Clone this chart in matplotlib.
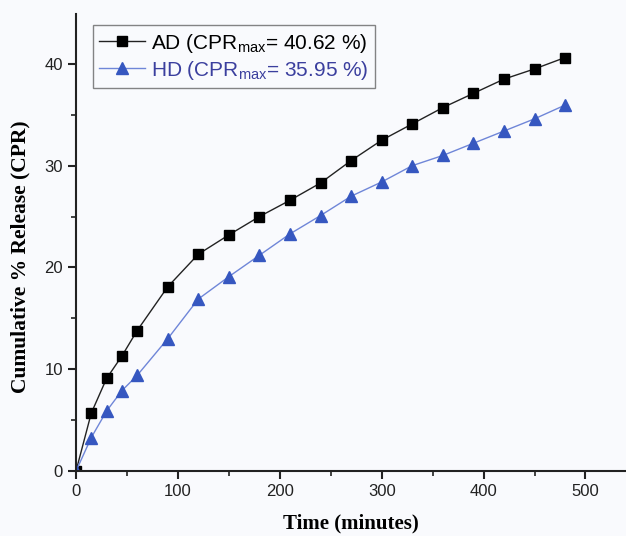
import matplotlib
matplotlib.use("Agg")
import matplotlib.pyplot as plt
from matplotlib.ticker import MultipleLocator

# Data
time_min = [0, 15, 30, 45, 60, 90, 120, 150, 180, 210, 240, 270, 300, 330, 360, 390, 420, 450, 480]
cpr_ad = [0, 5.7, 9.1, 11.3, 13.8, 18.1, 21.3, 23.2, 25.0, 26.6, 28.3, 30.5, 32.5, 34.1, 35.7, 37.1, 38.5, 39.5, 40.62]
cpr_hd = [0, 3.3, 5.9, 7.9, 9.4, 13.0, 16.9, 19.1, 21.2, 23.3, 25.1, 27.0, 28.4, 30.0, 31.0, 32.2, 33.4, 34.6, 35.95]

label_ad = 'AD (CPR$_{\\mathregular{max}}$= 40.62 %)'
label_hd = 'HD (CPR$_{\\mathregular{max}}$= 35.95 %)'

plt.rcParams['font.family'] = ['Liberation Sans', 'DejaVu Sans']
plt.rcParams['mathtext.fontset'] = 'custom'
plt.rcParams['mathtext.rm'] = 'Liberation Sans'

bg = '#f9fafd'
fig = plt.figure(figsize=(6.26, 5.36), dpi=100, facecolor=bg)
ax = fig.add_axes([0.1214, 0.121, 0.879, 0.853])
ax.set_facecolor(bg)

ax.plot(time_min, cpr_ad, color='#222222', lw=1.0, marker='s', ms=7.5,
        mfc='black', mec='black', label=label_ad)
ax.plot(time_min, cpr_hd, color='#6f86d8', lw=1.0, marker='^', ms=8.5,
        mfc='#3657c0', mec='#3657c0', label=label_hd)

ax.set_xlim(0, 540)
ax.set_ylim(0, 44.9)
ax.xaxis.set_major_locator(MultipleLocator(100))
ax.xaxis.set_minor_locator(MultipleLocator(50))
ax.yaxis.set_major_locator(MultipleLocator(10))
ax.yaxis.set_minor_locator(MultipleLocator(5))

for side in ['top', 'right']:
    ax.spines[side].set_visible(False)
for side in ['left', 'bottom']:
    ax.spines[side].set_linewidth(1.5)
    ax.spines[side].set_color('#222222')

ax.tick_params(which='major', direction='out', length=6, width=1.5, labelsize=12, colors='#222222')
ax.tick_params(which='minor', direction='out', length=3.5, width=1.2, colors='#222222')

ax.set_xlabel('Time (minutes)', family='Liberation Serif', fontweight='bold', fontsize=15, labelpad=10)
ax.set_ylabel('Cumulative % Release (CPR)', family='Liberation Serif', fontweight='bold', fontsize=15.5, labelpad=8)
ax.yaxis.set_label_coords(-0.082, 0.47)

leg = ax.legend(loc='upper left', bbox_to_anchor=(0.03, 0.975), fontsize=15,
                frameon=True, fancybox=False, edgecolor='#666666',
                handlelength=2.2, handletextpad=0.3, borderpad=0.3,
                labelspacing=0.2, borderaxespad=0)
leg.get_frame().set_linewidth(1.0)
leg.get_frame().set_facecolor(bg)
leg.get_texts()[1].set_color('#3b3f9e')

plt.savefig('out.png', dpi=100, facecolor=bg)
